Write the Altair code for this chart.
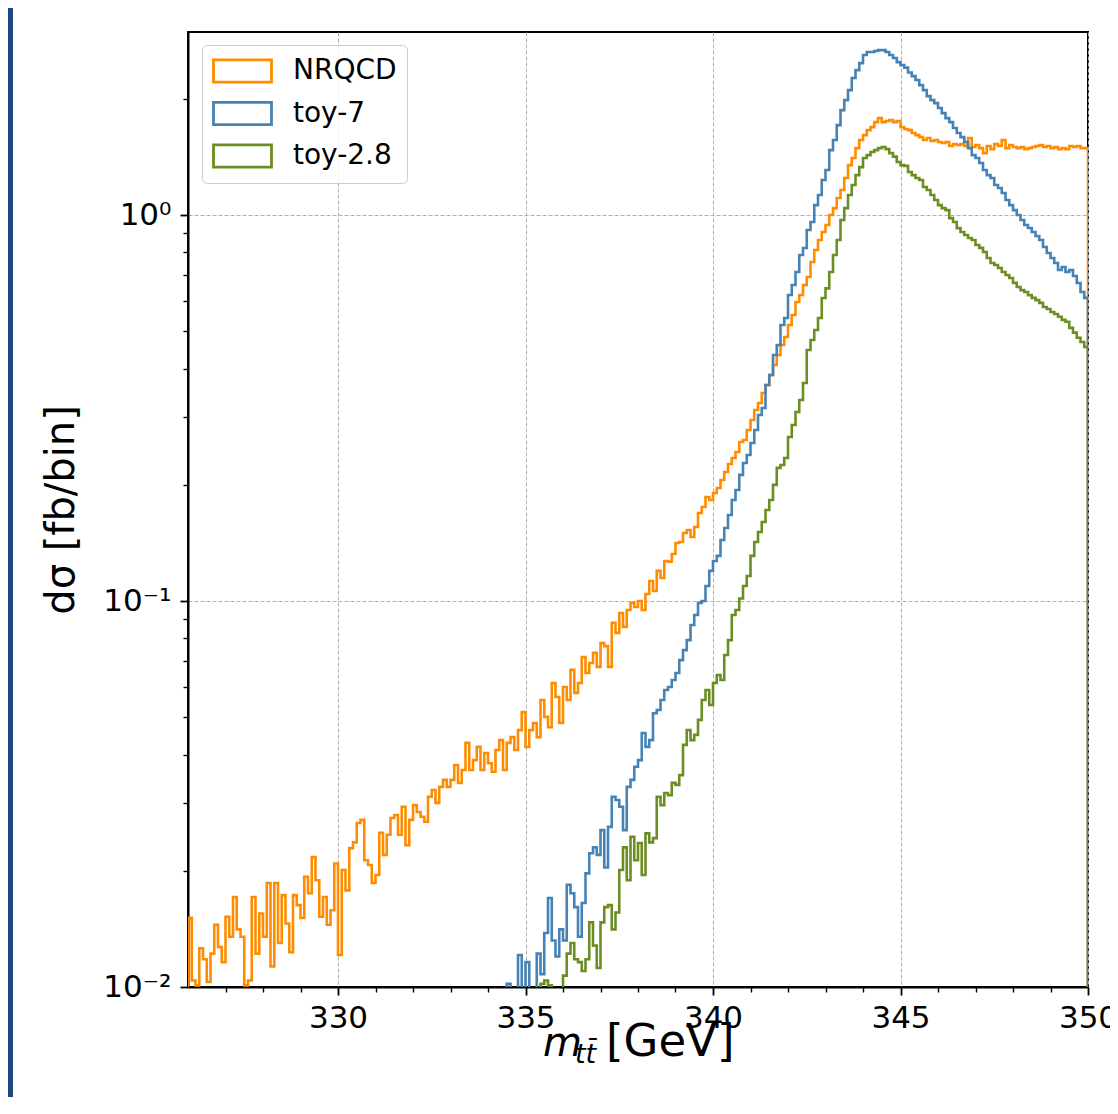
import numpy as np
import pandas as pd
import altair as alt

# ---------------- data (0.1 GeV bins) ----------------
BIN_WIDTH = 0.1
X_MIN, X_MAX = 326.0, 350.0
Y_MIN, Y_MAX = 0.01, 2.98
FLOOR = 1e-4  # closes the step histogram at its ends (drawn outside the plot)

SERIES = ["NRQCD", "toy-7", "toy-2.8"]
COLORS = ["#ff8c00", "#4682b4", "#6b8e23"]

# NRQCD: bins 326.0 ... 349.9
NRQCD_VALUES = [
    0.0151, 0.0104, 0.0101, 0.0126, 0.0118, 0.0103, 0.0122, 0.0145, 0.0127, 0.0116,
    0.0152, 0.0135, 0.0171, 0.0141, 0.0135, 0.0101, 0.0104, 0.0171, 0.0122, 0.0155,
    0.0135, 0.0186, 0.0113, 0.0186, 0.0130, 0.0173, 0.0146, 0.0123, 0.0173, 0.0163,
    0.0151, 0.0193, 0.0175, 0.0217, 0.0189, 0.0152, 0.0171, 0.0145, 0.0158, 0.0209,
    0.0121, 0.0201, 0.0178, 0.0229, 0.0237, 0.0266, 0.0271, 0.0213, 0.0207, 0.0186,
    0.0195, 0.0251, 0.0220, 0.0248, 0.0274, 0.0279, 0.0248, 0.0293, 0.0233, 0.0271,
    0.0296, 0.0284, 0.0276, 0.0268, 0.0311, 0.0324, 0.0300, 0.0330, 0.0344, 0.0330,
    0.0344, 0.0376, 0.0338, 0.0365, 0.0429, 0.0365, 0.0387, 0.0419, 0.0365, 0.0404,
    0.0380, 0.0361, 0.0411, 0.0436, 0.0365, 0.0429, 0.0444, 0.0411, 0.0463, 0.0516,
    0.0419, 0.0463, 0.0483, 0.0444, 0.0554, 0.0501, 0.0471, 0.0613, 0.0564, 0.0483,
    0.0599, 0.0554, 0.0663, 0.0578, 0.0613, 0.0716, 0.0651, 0.0691, 0.0734, 0.0675,
    0.0778, 0.0764, 0.0675, 0.0878, 0.0826, 0.0931, 0.0857, 0.0948, 0.0989, 0.0965,
    0.1000, 0.0948, 0.1043, 0.1127, 0.1062, 0.1197, 0.1147, 0.1270, 0.1265, 0.1324,
    0.1414, 0.1422, 0.1500, 0.1528, 0.1465, 0.1555, 0.1690, 0.1752, 0.1860, 0.1827,
    0.1905, 0.1963, 0.2059, 0.2160, 0.2265, 0.2347, 0.2432, 0.2582, 0.2613, 0.2774,
    0.2944, 0.3125, 0.3259, 0.3460, 0.3627, 0.3850, 0.4087, 0.4338, 0.4605, 0.4830,
    0.5188, 0.5507, 0.5953, 0.6205, 0.6587, 0.6908, 0.7556, 0.8117, 0.8616, 0.9037,
    0.9422, 1.000, 1.042, 1.107, 1.161, 1.247, 1.347, 1.405, 1.491, 1.564,
    1.611, 1.660, 1.690, 1.741, 1.783, 1.741, 1.752, 1.762, 1.741, 1.752,
    1.690, 1.670, 1.660, 1.631, 1.611, 1.592, 1.564, 1.583, 1.555, 1.564,
    1.546, 1.537, 1.546, 1.509, 1.528, 1.518, 1.528, 1.509, 1.583, 1.500,
    1.518, 1.491, 1.447, 1.509, 1.482, 1.528, 1.509, 1.564, 1.491, 1.518,
    1.500, 1.491, 1.500, 1.482, 1.491, 1.500, 1.509, 1.518, 1.500, 1.509,
    1.491, 1.500, 1.482, 1.491, 1.482, 1.509, 1.500, 1.509, 1.491, 1.491,
]

# toy-7: bins 334.4 ... 349.9
TOY7_VALUES = [
    0.0098, 0.0102, 0.0095, 0.0090, 0.0121, 0.0090,
    0.0116, 0.0095, 0.0098, 0.0122, 0.0108, 0.0138, 0.0170, 0.0132, 0.0120, 0.0141,
    0.0132, 0.0184, 0.0175, 0.0161, 0.0135, 0.0165, 0.0197, 0.0222, 0.0230, 0.0220,
    0.0255, 0.0204, 0.0260, 0.0311, 0.0305, 0.0293, 0.0255, 0.0330, 0.0344, 0.0372,
    0.0387, 0.0455, 0.0419, 0.0436, 0.0512, 0.0522, 0.0554, 0.0588, 0.0599, 0.0624,
    0.0651, 0.0703, 0.0746, 0.0792, 0.0867, 0.0920, 0.0989, 0.1000, 0.1094, 0.1197,
    0.1270, 0.1309, 0.1439, 0.1546, 0.1670, 0.1827, 0.1940, 0.2122, 0.2278, 0.2389,
    0.2566, 0.2774, 0.3033, 0.3163, 0.3627, 0.3850, 0.4338, 0.4605, 0.5188, 0.5410,
    0.6205, 0.6587, 0.7120, 0.7878, 0.8215, 0.9145, 0.9590, 1.061, 1.127, 1.232,
    1.308, 1.473, 1.564, 1.710, 1.870, 1.985, 2.107, 2.264, 2.374, 2.475,
    2.597, 2.644, 2.644, 2.660, 2.675, 2.675, 2.644, 2.597, 2.551, 2.490,
    2.446, 2.410, 2.340, 2.290, 2.237, 2.171, 2.107, 2.033, 1.985, 1.950,
    1.893, 1.837, 1.783, 1.741, 1.680, 1.631, 1.592, 1.546, 1.491, 1.430,
    1.405, 1.364, 1.308, 1.269, 1.247, 1.196, 1.175, 1.141, 1.094, 1.061,
    1.030, 1.000, 0.9707, 0.9422, 0.9252, 0.9037, 0.8823, 0.8616, 0.8262, 0.7974,
    0.7740, 0.7510, 0.7204, 0.7334, 0.7120, 0.7204, 0.6950, 0.6666, 0.6316, 0.6100,
]

# toy-2.8: bins 335.4 ... 349.9
TOY28_VALUES = [
    0.0102, 0.0104, 0.0101, 0.0090, 0.0085, 0.0092,
    0.0107, 0.0122, 0.0130, 0.0118, 0.0116, 0.0110, 0.0118, 0.0147, 0.0128, 0.0112,
    0.0147, 0.0161, 0.0163, 0.0141, 0.0156, 0.0201, 0.0230, 0.0189, 0.0245, 0.0213,
    0.0236, 0.0195, 0.0250, 0.0237, 0.0243, 0.0311, 0.0296, 0.0318, 0.0314, 0.0338,
    0.0334, 0.0354, 0.0424, 0.0463, 0.0436, 0.0450, 0.0492, 0.0554, 0.0588, 0.0538,
    0.0613, 0.0643, 0.0624, 0.0725, 0.0792, 0.0920, 0.0948, 0.1015, 0.1094, 0.1161,
    0.1309, 0.1422, 0.1510, 0.1602, 0.1721, 0.1827, 0.1999, 0.2213, 0.2251, 0.2347,
    0.2661, 0.2858, 0.3088, 0.3318, 0.3672, 0.4469, 0.4744, 0.5036, 0.5410, 0.6095,
    0.6457, 0.7120, 0.7878, 0.8616, 0.9707, 1.042, 1.127, 1.196, 1.269, 1.331,
    1.405, 1.430, 1.456, 1.473, 1.491, 1.500, 1.482, 1.447, 1.417, 1.372,
    1.347, 1.341, 1.293, 1.269, 1.247, 1.232, 1.182, 1.161, 1.127, 1.094,
    1.061, 1.042, 1.030, 0.982, 0.959, 0.925, 0.904, 0.888, 0.872, 0.862,
    0.836, 0.822, 0.802, 0.774, 0.751, 0.742, 0.729, 0.712, 0.699, 0.687,
    0.667, 0.651, 0.639, 0.632, 0.620, 0.610, 0.602, 0.592, 0.578, 0.571,
    0.561, 0.554, 0.545, 0.535, 0.529, 0.510, 0.496, 0.481, 0.469, 0.455,
]

X_MAJOR_TICKS = [330, 335, 340, 345, 350]
X_MINOR_TICKS = [327, 328, 329, 331, 332, 333, 334, 336, 337, 338, 339,
                 341, 342, 343, 344, 346, 347, 348, 349]
Y_MAJOR_TICKS = [0.01, 0.1, 1.0]
Y_MINOR_TICKS = [0.02, 0.03, 0.04, 0.05, 0.06, 0.07, 0.08, 0.09,
                 0.2, 0.3, 0.4, 0.5, 0.6, 0.7, 0.8, 0.9, 2.0]
Y_LABEL_EXPR = "datum.value >= 0.5 ? '10⁰' : (datum.value >= 0.05 ? '10⁻¹' : '10⁻²')"
Y_TITLE = "dσ [fb/bin]"
X_TITLE_PARTS = ["m", "tt̄", "[GeV]"]

FONT = "DejaVu Sans"
W, H = 900, 955


def series_frame(name, values):
    # all three histograms end at the right edge of the range
    n = len(values)
    start = round(X_MAX - BIN_WIDTH * n, 4)
    edges = [round(start + BIN_WIDTH * i, 4) for i in range(n)]
    xs = [start] + edges + [X_MAX, X_MAX]
    ys = [FLOOR] + list(values) + [values[-1], FLOOR]
    return pd.DataFrame({"x": xs, "y": ys, "series": name, "i": range(len(xs))})


df = pd.concat([
    series_frame("NRQCD", NRQCD_VALUES),
    series_frame("toy-7", TOY7_VALUES),
    series_frame("toy-2.8", TOY28_VALUES),
], ignore_index=True)

xscale = alt.Scale(domain=[X_MIN, X_MAX], nice=False, zero=False)
yscale = alt.Scale(type="log", domain=[Y_MIN, Y_MAX], nice=False)

legend = alt.Legend(
    title=None, orient="none", legendX=14, legendY=13,
    symbolType="M-1,-0.77H3V0.77H-1Z", symbolSize=841, symbolStrokeWidth=2.8,
    labelFontSize=28, labelFont=FONT, labelColor="black", labelOffset=49,
    rowPadding=8.5, padding=10, strokeColor="#cccccc",
    fillColor="rgba(255,255,255,0.85)", cornerRadius=5,
)
color = alt.Color("series:N", scale=alt.Scale(domain=SERIES, range=COLORS), legend=legend)

x_major = alt.Axis(values=X_MAJOR_TICKS, format="d", labelFlush=False, tickSize=8, tickWidth=1.8,
                   tickColor="black", labelFontSize=31, labelFont=FONT, labelColor="black",
                   labelPadding=8, grid=True, gridDash=[4, 2], gridColor="#b0b0b0", gridWidth=1,
                   domainColor="black", domainWidth=2, title=None, orient="bottom")
y_major = alt.Axis(values=Y_MAJOR_TICKS, labelExpr=Y_LABEL_EXPR, tickSize=8, tickWidth=1.8,
                   tickColor="black", labelFontSize=31, labelFont=FONT, labelColor="black",
                   labelPadding=9, grid=True, gridDash=[4, 2], gridColor="#b0b0b0", gridWidth=1,
                   domainColor="black", domainWidth=2, orient="left",
                   title=Y_TITLE, titleFont=FONT, titleFontSize=40, titleFontWeight="normal",
                   titleColor="black", titleX=-127, titleY=H / 2, titleBaseline="middle",
                   titleAlign="center", titleAngle=270)
x_minor = alt.Axis(values=X_MINOR_TICKS, labels=False, tickSize=5, tickWidth=1.4, tickColor="black",
                   grid=False, domain=False, title=None, orient="bottom")
y_minor = alt.Axis(values=Y_MINOR_TICKS, labels=False, tickSize=5, tickWidth=1.4, tickColor="black",
                   grid=False, domain=False, title=None, orient="left")

base = alt.Chart(df)


def hist_layer(name, xaxis, yaxis):
    return base.transform_filter(alt.datum.series == name).mark_line(
        interpolate="step-after", strokeWidth=2.6, clip=True
    ).encode(
        x=alt.X("x:Q", scale=xscale, axis=xaxis),
        y=alt.Y("y:Q", scale=yscale, axis=yaxis),
        order="i:Q",
        color=color,
    )


l_nrqcd = hist_layer("NRQCD", x_major, y_major)
l_toy7 = hist_layer("toy-7", None, None)
l_toy28 = hist_layer("toy-2.8", None, None)

minor = base.transform_filter(alt.datum.series == "NRQCD").mark_line(
    strokeOpacity=0, clip=True
).encode(
    x=alt.X("x:Q", scale=xscale, axis=x_minor),
    y=alt.Y("y:Q", scale=yscale, axis=y_minor),
    order="i:Q",
)

# x-axis title built from parts (italic m with subscript tt̄)
t_m = alt.Chart(pd.DataFrame({"label": [X_TITLE_PARTS[0]]})).mark_text(
    align="left", baseline="alphabetic", font=FONT, fontSize=40, fontStyle="italic", color="black"
).encode(x=alt.value(355), y=alt.value(1024), text="label:N")
t_sub = alt.Chart(pd.DataFrame({"label": [X_TITLE_PARTS[1]]})).mark_text(
    align="left", baseline="alphabetic", font=FONT, fontSize=27, fontStyle="italic", color="black"
).encode(x=alt.value(387), y=alt.value(1031), text="label:N")
t_unit = alt.Chart(pd.DataFrame({"label": [X_TITLE_PARTS[2]]})).mark_text(
    align="left", baseline="alphabetic", font=FONT, fontSize=45, color="black"
).encode(x=alt.value(418), y=alt.value(1024), text="label:N")

# dark frame stripe at the left edge of the figure
stripe = alt.Chart(pd.DataFrame({"k": [0]})).mark_rect(color="#1f497d").encode(
    x=alt.value(-180), x2=alt.value(-175), y=alt.value(-24), y2=alt.value(H + 110)
)

chart = alt.layer(
    stripe, l_nrqcd, minor, l_toy7, l_toy28, t_m, t_sub, t_unit
).resolve_axis(
    x="independent", y="independent"
).properties(
    width=W, height=H,
    autosize=alt.AutoSizeParams(type="none"),
    padding={"left": 180, "top": 24, "right": 22, "bottom": 110},
).configure(
    font=FONT,
).configure_view(
    stroke="black", strokeWidth=2,
)

chart.save("out.html", embed_options={"renderer": "svg", "actions": False})
